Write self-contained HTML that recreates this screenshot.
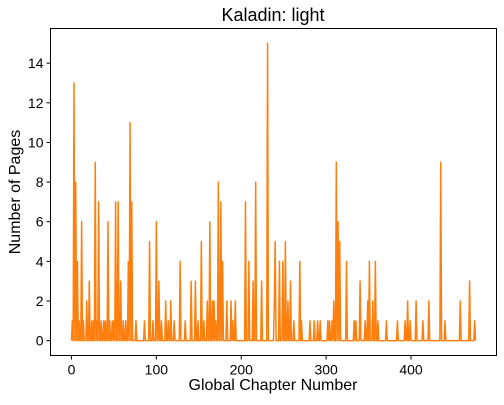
<!DOCTYPE html>
<html><head><meta charset="utf-8"><style>
body{margin:0;background:#fff;font-family:"Liberation Sans",sans-serif}
svg text{font-family:"Liberation Sans",sans-serif;fill:#000}
</style></head><body>
<svg id="chart" width="504" height="400" viewBox="0 0 504 400" xmlns="http://www.w3.org/2000/svg">
<text x="273" y="21" text-anchor="middle" font-size="18">Kaladin: light</text>
<rect x="50.5" y="28.5" width="446" height="327" fill="none" stroke="#000" stroke-width="1"/>
<g id="xticks"></g><g id="yticks"></g>
<path id="line" fill="none" stroke="#ff7f0e" stroke-width="1.5" stroke-linejoin="round"/>
<text x="273" y="390" text-anchor="middle" font-size="16">Global Chapter Number</text>
<text transform="translate(20,192) rotate(-90)" text-anchor="middle" font-size="16">Number of Pages</text>
</svg>
<script>
const chapterCount = 477;
const nzChapters = [1,3,5,7,9,12,14,18,21,24,26,28,30,32,35,38,40,43,45,48,50,52,55,58,61,64,67,69,71,76,86,92,96,100,103,106,111,114,117,121,128,134,141,146,149,153,156,160,163,166,168,170,173,176,178,183,188,190,193,205,209,214,217,224,231,239,240,245,249,252,255,258,262,269,271,281,286,290,293,302,304,307,309,312,314,316,324,333,335,340,346,349,351,355,358,361,371,384,393,396,399,406,414,421,435,440,458,469,475];
const nzValues   = [1,13,8,4,1,6,1,2,3,1,1,9,1,7,1,1,1,6,1,1,1,7,7,3,1,1,4,11,7,1,1,5,1,6,3,1,2,1,2,1,4,1,3,3,1,5,1,2,6,2,2,1,8,7,4,2,2,1,2,7,4,3,8,3,15,2,5,4,4,5,2,3,1,4,1,1,1,1,1,1,1,1,2,9,6,5,4,1,1,3,1,2,4,2,4,1,1,1,1,2,1,2,1,2,9,1,2,3,1];
const xTicks = [0,100,200,300,400];
const yTicks = [0,2,4,6,8,10,12,14];
const X0=-24.7, X1=500.7, Y0=-0.75, Y1=15.75;
const L=50.5,R=496.5,T=28.5,B=355.5;
function sx(v){return L+(v-X0)/(X1-X0)*(R-L);}
function sy(v){return B-(v-Y0)/(Y1-Y0)*(B-T);}
const vals=new Array(chapterCount).fill(0);
nzChapters.forEach((c,i)=>{vals[c]=nzValues[i];});
let d='';
vals.forEach((v,i)=>{d+=(i?'L':'M')+sx(i).toFixed(2)+','+sy(v).toFixed(2);});
document.getElementById('line').setAttribute('d',d);
const ns='http://www.w3.org/2000/svg';
const xg=document.getElementById('xticks'), yg=document.getElementById('yticks');
xTicks.forEach(t=>{
  const l=document.createElementNS(ns,'line');
  
  
  l.setAttribute('x1',sx(t));l.setAttribute('x2',sx(t));l.setAttribute('y1',B);l.setAttribute('y2',B+4);l.setAttribute('stroke','#000');
  xg.appendChild(l);
  const tx=document.createElementNS(ns,'text');
  
  
  tx.setAttribute('x',sx(t));tx.setAttribute('y',B+19);tx.setAttribute('text-anchor','middle');tx.setAttribute('font-size','14');
  tx.textContent=t;xg.appendChild(tx);
});
yTicks.forEach(t=>{
  const l=document.createElementNS(ns,'line');
  
  
  l.setAttribute('x1',L-4);l.setAttribute('x2',L);l.setAttribute('y1',sy(t));l.setAttribute('y2',sy(t));l.setAttribute('stroke','#000');
  yg.appendChild(l);
  const tx=document.createElementNS(ns,'text');
  
  
  tx.setAttribute('x',L-7);tx.setAttribute('y',sy(t)+5);tx.setAttribute('text-anchor','end');tx.setAttribute('font-size','14');
  tx.textContent=t;yg.appendChild(tx);
});
</script>
</body></html>
